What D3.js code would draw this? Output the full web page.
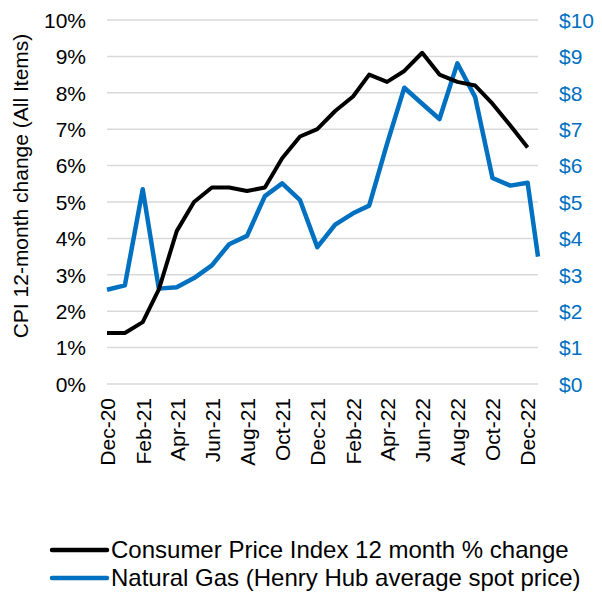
<!DOCTYPE html>
<meta charset="utf-8">
<script src="https://cdn.jsdelivr.net/npm/d3@7"></script>
<style>
body { margin: 0; background: #fff; }
text { font-family: Arial, "Liberation Sans", sans-serif; }
</style>
<body>
<script>
// CPI 12 month % change, monthly Dec-20 .. Dec-22
var cpiDates = ["2020-12-01","2021-01-01","2021-02-01","2021-03-01","2021-04-01","2021-05-01","2021-06-01",
  "2021-07-01","2021-08-01","2021-09-01","2021-10-01","2021-11-01","2021-12-01","2022-01-01","2022-02-01",
  "2022-03-01","2022-04-01","2022-05-01","2022-06-01","2022-07-01","2022-08-01","2022-09-01","2022-10-01",
  "2022-11-01","2022-12-01"];
var cpiValues = [1.4, 1.4, 1.7, 2.6, 4.2, 5.0, 5.4, 5.4, 5.3, 5.4, 6.2, 6.8, 7.0, 7.5, 7.9,
  8.5, 8.3, 8.6, 9.1, 8.5, 8.3, 8.2, 7.7, 7.1, 6.5];

// Henry Hub average spot price ($), last point is a partial month
var gasDates = cpiDates.concat(["2022-12-19"]);
var gasValues = [2.59, 2.71, 5.35, 2.62, 2.66, 2.91, 3.26, 3.84, 4.07, 5.16, 5.51, 5.05, 3.76, 4.38, 4.69,
  4.90, 6.60, 8.14, 7.70, 7.28, 8.81, 7.88, 5.66, 5.45, 5.53, 3.50];

var leftTicks = [0,1,2,3,4,5,6,7,8,9,10];
var rightTicks = [0,1,2,3,4,5,6,7,8,9,10];
var xTickDates = ["2020-12-01","2021-02-01","2021-04-01","2021-06-01","2021-08-01","2021-10-01","2021-12-01",
  "2022-02-01","2022-04-01","2022-06-01","2022-08-01","2022-10-01","2022-12-01"];

var legendNames = ["Consumer Price Index 12 month % change", "Natural Gas (Henry Hub average spot price)"];
var legendColors = ["#000000", "#0070C0"];

var W = 602, H = 592;
var pLeft = 107, pRight = 538, pTop = 20, pBottom = 384;

var parse = d3.timeParse("%Y-%m-%d");

var svg = d3.select("body").append("svg")
    .attr("width", W)
    .attr("height", H);

var x = d3.scaleTime()
    .domain([parse("2020-12-01"), parse("2022-12-19")])
    .range([pLeft, pRight]);

var yL = d3.scaleLinear().domain([0, 10]).range([pBottom, pTop]);
var yR = d3.scaleLinear().domain([0, 10]).range([pBottom, pTop]);

// gridlines
svg.append("g")
  .selectAll("line")
  .data(leftTicks)
  .enter().append("line")
    .attr("x1", pLeft)
    .attr("x2", pRight)
    .attr("y1", function(d) { return yL(d); })
    .attr("y2", function(d) { return yL(d); })
    .attr("stroke", "#d9d9d9")
    .attr("stroke-width", 1.5);

// left axis
var axL = d3.axisLeft(yL)
    .tickValues(leftTicks)
    .tickSize(0)
    .tickPadding(21)
    .tickFormat(function(d) { return d + "%"; });
var gL = svg.append("g")
    .attr("transform", "translate(" + pLeft + ",0)")
    .call(axL);
gL.select(".domain").remove();
gL.selectAll("text")
    .style("font-size", "21px")
    .attr("fill", "#000")
    .attr("dy", "0.35em");

// right axis
var axR = d3.axisRight(yR)
    .tickValues(rightTicks)
    .tickSize(0)
    .tickPadding(21)
    .tickFormat(function(d) { return "$" + d; });
var gR = svg.append("g")
    .attr("transform", "translate(" + pRight + ",0)")
    .call(axR);
gR.select(".domain").remove();
gR.selectAll("text")
    .style("font-size", "21px")
    .attr("fill", "#0070C0")
    .attr("dy", "0.35em");

// x axis
var axX = d3.axisBottom(x)
    .tickValues(xTickDates.map(parse))
    .tickSize(0)
    .tickFormat(d3.timeFormat("%b-%y"));
var gX = svg.append("g")
    .attr("transform", "translate(0," + pBottom + ")")
    .call(axX);
gX.select(".domain").remove();
gX.selectAll("text")
    .style("font-size", "21px")
    .attr("fill", "#000")
    .attr("transform", "rotate(-90)")
    .attr("text-anchor", "end")
    .attr("x", -14)
    .attr("y", 0)
    .attr("dy", "0.35em");

// y title
svg.append("text")
    .attr("transform", "translate(21,186) rotate(-90)")
    .attr("text-anchor", "middle")
    .attr("dy", "0.35em")
    .style("font-size", "21px")
    .text("CPI 12-month change (All Items)");

// lines
var cpiData = cpiDates.map(function(d, i) { return {date: parse(d), v: cpiValues[i]}; });
var gasData = gasDates.map(function(d, i) { return {date: parse(d), v: gasValues[i]}; });

svg.append("path")
    .datum(gasData)
    .attr("fill", "none")
    .attr("stroke", "#0070C0")
    .attr("stroke-width", 4.5)
    .attr("stroke-linejoin", "round")
    .attr("d", d3.line()
        .x(function(d) { return x(d.date); })
        .y(function(d) { return yR(d.v); }));

svg.append("path")
    .datum(cpiData)
    .attr("fill", "none")
    .attr("stroke", "#000")
    .attr("stroke-width", 4)
    .attr("stroke-linejoin", "round")
    .attr("d", d3.line()
        .x(function(d) { return x(d.date); })
        .y(function(d) { return yL(d.v); }));

// legend
var legend = svg.selectAll(".legend")
    .data(legendNames)
    .enter().append("g")
    .attr("class", "legend")
    .attr("transform", function(d, i) { return "translate(0," + (550 + i * 28) + ")"; });

legend.append("line")
    .attr("x1", 52)
    .attr("x2", 107)
    .attr("stroke", function(d, i) { return legendColors[i]; })
    .attr("stroke-width", 4.5)
    .attr("stroke-linecap", "round");

legend.append("text")
    .attr("x", 111)
    .attr("dy", "0.35em")
    .style("font-size", "24px")
    .text(function(d) { return d; });
</script>
</body>
</html>
